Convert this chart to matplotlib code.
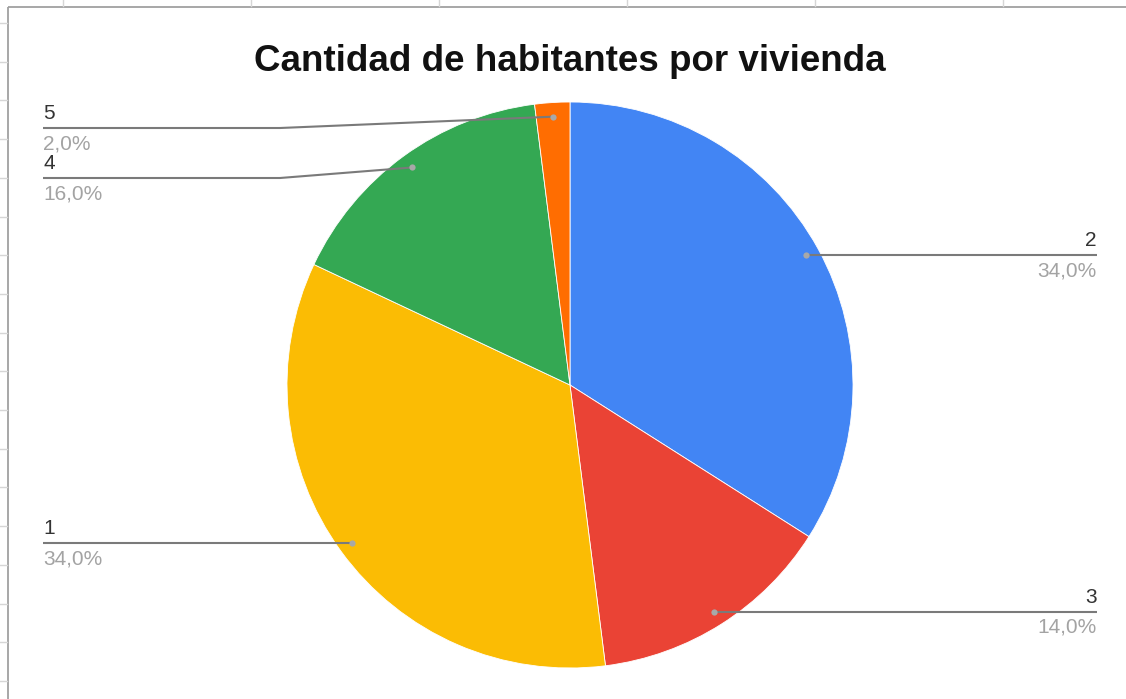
import numpy as np
import matplotlib.pyplot as plt

# habitantes por vivienda (porcentaje de viviendas)
categorias = ["2", "3", "1", "4", "5"]
porcentajes = [34.0, 14.0, 34.0, 16.0, 2.0]
colores = ["#4285F4", "#EA4335", "#FBBC04", "#34A853", "#FF6D01"]

W, H = 1126, 699
CENTRO = (570, 385)
RADIO = 283

# etiquetas: lado y altura de la guia cuando se desplaza del punto
LADO = {"2": "right", "3": "right", "1": "left", "4": "left", "5": "left"}
GUIA_Y = {"5": 128, "4": 178}
X_IZQ, X_DER, X_CODO = 43, 1097, 280

plt.rcParams["font.family"] = ["Liberation Sans", "DejaVu Sans"]

fig = plt.figure(figsize=(W / 100, H / 100), dpi=100)
ax = fig.add_axes([0, 0, 1, 1])

wedges, _ = ax.pie(
    porcentajes,
    colors=colores,
    startangle=270,
    counterclock=True,
    center=CENTRO,
    radius=RADIO,
    wedgeprops=dict(edgecolor="white", linewidth=0.6),
)
ax.set_xlim(0, W)
ax.set_ylim(H, 0)
ax.set_aspect("auto")
ax.axis("off")

# marco y cuadricula de la hoja de calculo
ax.plot([8, W], [7, 7], color="#a0a0a0", lw=1.3, solid_capstyle="butt")
ax.plot([8, 8], [7, H], color="#a0a0a0", lw=1.3, solid_capstyle="butt")
for gx in np.arange(63, W, 188):
    ax.plot([gx, gx], [0, 6], color="#d6d6d6", lw=1)
for gy in np.arange(23, H, 38.7):
    ax.plot([0, 7], [gy, gy], color="#d6d6d6", lw=1)

ax.text(570, 71, "Cantidad de habitantes por vivienda", ha="center", va="baseline",
        fontsize=26.5, fontweight="bold", color="#111111")

for w, cat, pct in zip(wedges, categorias, porcentajes):
    ang = np.deg2rad((w.theta1 + w.theta2) / 2)
    ax_ = CENTRO[0] + 0.95 * RADIO * np.cos(ang)
    ay_ = CENTRO[1] + 0.95 * RADIO * np.sin(ang)
    ly = GUIA_Y.get(cat, ay_)
    if LADO[cat] == "left":
        xs = [X_IZQ, min(X_CODO, ax_), ax_]
        ys = [ly, ly, ay_]
        tx, ha = X_IZQ, "left"
    else:
        xs = [X_DER, ax_]
        ys = [ly, ay_]
        tx, ha = X_DER, "right"
    ax.plot(xs, ys, color="#7a7a7a", lw=1.5, solid_capstyle="butt", zorder=3)
    ax.plot(ax_, ay_, "o", ms=4.5, color="#a8a8a8", mec="none", zorder=4)
    ax.text(tx, ly - 9, cat, ha=ha, va="baseline", fontsize=15, color="#333333")
    ax.text(tx, ly + 21, f"{pct:.1f}%".replace(".", ","), ha=ha, va="baseline",
            fontsize=15, color="#a3a3a3")

fig.savefig("out.png", dpi=100, facecolor="white")
